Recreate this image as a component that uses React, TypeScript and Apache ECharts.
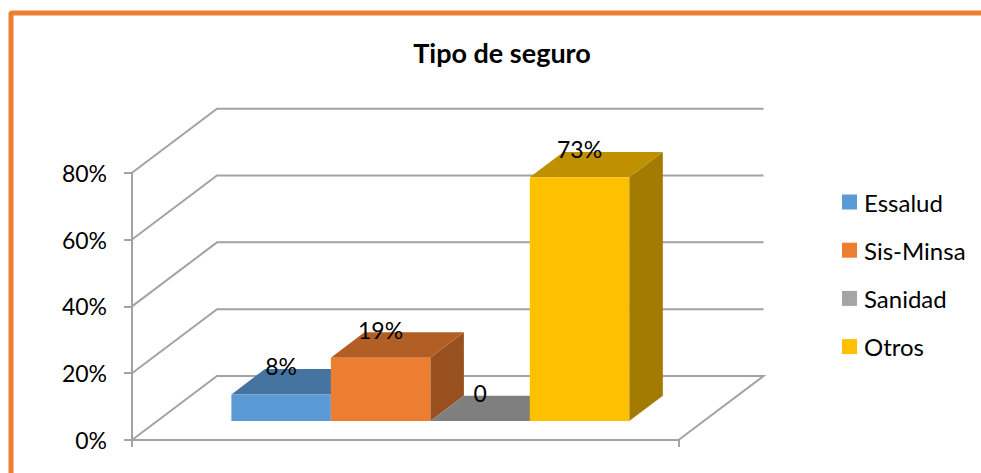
import React, { useEffect, useRef } from "react";
import * as echarts from "echarts";

const chartTitle = "Tipo de seguro";
const categories = ["Tipo de seguro"];
const seriesNames = ["Essalud", "Sis-Minsa", "Sanidad", "Otros"];
const seriesValues = [8, 19, 0, 73];
const dataLabels = ["8%", "19%", "0", "73%"];
const yTicks = [0, 20, 40, 60, 80];
const frontColors = ["#5B9BD5", "#ED7D31", "#A5A5A5", "#FFC000"];
const topColors = ["#4674A0", "#B25F26", "#7F7F7F", "#BF9000"];
const sideColors = ["#3B6288", "#98501F", "#696969", "#A37B00"];

const FONT = "Lato";
const WALL_DX = 85;
const WALL_DY = 64;
const BAR_START = 0.295;
const BAR_DEPTH = 0.395;
const GAP_FRACTION = 0.136;
const GRID_COLOR = "#A3A3A3";
const LINE_W = 2;

function barRender(index: number) {
  return (_params: any, api: any) => {
    const origin = api.coord([0, 0]);
    const band = api.size([1, 0])[0];
    const top = api.coord([0, api.value(1)]);
    const gap = band * GAP_FRACTION;
    const w = (band - 2 * gap) / seriesNames.length;
    const sx = WALL_DX * BAR_START;
    const sy = WALL_DY * BAR_START;
    const dx = WALL_DX * BAR_DEPTH;
    const dy = WALL_DY * BAR_DEPTH;
    const x0 = origin[0] - band / 2 + gap + w * index + sx;
    const x1 = x0 + w;
    const yb = origin[1] - sy;
    const yt = top[1] - sy;
    return {
      type: "group",
      children: [
        {
          type: "polygon",
          shape: { points: [[x1, yb], [x1 + dx, yb - dy], [x1 + dx, yt - dy], [x1, yt]] },
          style: { fill: sideColors[index] },
        },
        {
          type: "polygon",
          shape: { points: [[x0, yt], [x0 + dx, yt - dy], [x1 + dx, yt - dy], [x1, yt]] },
          style: { fill: topColors[index] },
        },
        {
          type: "rect",
          shape: { x: x0, y: yt, width: w, height: yb - yt },
          style: { fill: frontColors[index] },
        },
        {
          type: "text",
          z2: 100,
          style: {
            x: (x0 + x1) / 2,
            y: yt - 28,
            text: dataLabels[index],
            align: "center",
            verticalAlign: "middle",
            fill: "#000000",
            font: `23px ${FONT}`,
          },
        },
      ],
    };
  };
}

function wallRender(_params: any, api: any) {
  const p = api.coord([0, api.value(1)]);
  const band = api.size([1, 0])[0];
  const left = p[0] - band / 2;
  const right = p[0] + band / 2;
  const points =
    api.value(1) === 0
      ? [[left, p[1]], [left + WALL_DX, p[1] - WALL_DY], [right + WALL_DX, p[1] - WALL_DY], [right, p[1]]]
      : [[left, p[1]], [left + WALL_DX, p[1] - WALL_DY], [right + WALL_DX, p[1] - WALL_DY]];
  return {
    type: "polyline",
    shape: { points },
    style: { stroke: GRID_COLOR, lineWidth: LINE_W, fill: "none" },
  };
}

export default function App() {
  const ref = useRef<HTMLDivElement>(null);
  useEffect(() => {
    const chart = echarts.init(ref.current!, undefined, { renderer: "svg" });
    chart.setOption({
      animation: false,
      backgroundColor: "#FFFFFF",
      textStyle: { fontFamily: FONT },
      title: {
        text: chartTitle,
        left: 502,
        top: 39,
        padding: 0,
        textAlign: "center",
        textStyle: { fontFamily: FONT, fontWeight: "bold", fontSize: 27, color: "#000000" },
      },
      legend: {
        orient: "vertical",
        left: 842,
        top: 190,
        padding: 0,
        itemWidth: 15,
        itemHeight: 15,
        itemGap: 24.2,
        icon: "rect",
        data: seriesNames.map((name, i) => ({ name, itemStyle: { color: frontColors[i] } })),
        textStyle: { fontFamily: FONT, fontSize: 24, color: "#000000", padding: [0, 0, 0, 2] },
      },
      grid: { left: 132, width: 546.5, top: 172.7, height: 267.3, containLabel: false },
      xAxis: {
        type: "category",
        data: categories,
        axisLine: { lineStyle: { color: GRID_COLOR, width: LINE_W } },
        axisTick: { show: true, length: 7, lineStyle: { color: GRID_COLOR, width: LINE_W } },
        axisLabel: { show: false },
      },
      yAxis: {
        type: "value",
        min: 0,
        max: 80,
        interval: 20,
        axisLine: { show: true, lineStyle: { color: GRID_COLOR, width: LINE_W } },
        axisTick: { show: true, length: 8, lineStyle: { color: GRID_COLOR, width: LINE_W } },
        splitLine: { show: false },
        axisLabel: {
          margin: 25,
          formatter: "{value}%",
          fontFamily: FONT,
          fontSize: 23,
          color: "#000000",
          padding: [6, 0, 0, 0],
        },
      },
      graphic: [
        {
          type: "rect",
          silent: true,
          shape: { x: 11, y: 13, width: 1100, height: 600, r: 1 },
          style: { fill: "none", stroke: "#ED7D31", lineWidth: 5 },
        },
      ],
      series: [
        {
          type: "custom",
          name: "walls",
          silent: true,
          z: 1,
          renderItem: wallRender,
          encode: { x: 0, y: 1 },
          data: yTicks.map((v) => [0, v]),
        },
        ...seriesNames.map((name, i) => ({
          type: "custom",
          name,
          z: 2 + i,
          itemStyle: { color: frontColors[i] },
          renderItem: barRender(i),
          encode: { x: 0, y: 1 },
          data: [[0, seriesValues[i]]],
        })),
      ],
    });
    return () => chart.dispose();
  }, []);
  return (
    <div
      ref={ref}
      style={{ position: "fixed", left: 0, top: 0, width: 981, height: 473 }}
    />
  );
}
